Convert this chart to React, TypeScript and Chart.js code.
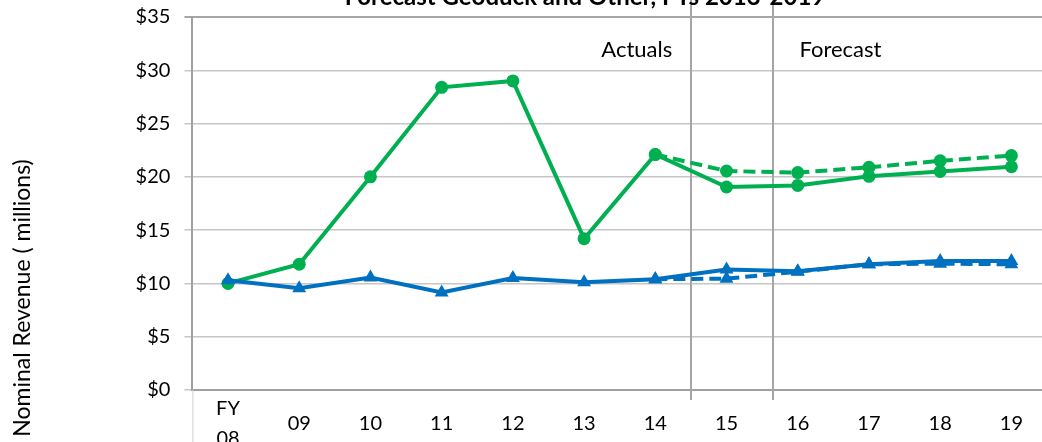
import React, { useEffect, useRef } from "react";
import { Chart, registerables } from "chart.js";

Chart.register(...registerables);

const categories: (string | string[])[] = [["FY", "08"], "09", "10", "11", "12", "13", "14", "15", "16", "17", "18", "19"];
const greenSolid = [10.0, 11.8, 20.0, 28.4, 29.0, 14.2, 22.1, 19.05, 19.2, 20.05, 20.5, 20.95];
const greenDashed = [null, null, null, null, null, null, 22.1, 20.55, 20.4, 20.9, 21.5, 22.0];
const blueSolid = [10.3, 9.55, 10.55, 9.15, 10.5, 10.1, 10.4, 11.3, 11.15, 11.8, 12.1, 12.1];
const blueDashed = [null, null, null, null, null, null, 10.4, 10.45, 11.1, 11.8, 11.85, 11.8];
const yMin = 0;
const yMax = 35;
const yStep = 5;
const titleText = "Forecast Geoduck and Other, FYs 2013-2019";
const yTitle = "Nominal Revenue ( millions)";
const actualsLabel = "Actuals";
const forecastLabel = "Forecast";

const GREEN = "#00B050";
const BLUE = "#0070C0";
const FONT = "Lato";
const TOP_SHIFT = 30;
const CANVAS_W = 1055;
const CANVAS_H = 480;

const overlay = {
  id: "overlay",
  beforeDatasetsDraw(chart: any) {
    const { ctx, scales } = chart;
    const xs = scales.x;
    const ys = scales.y;
    ctx.save();
    ctx.strokeStyle = "#A6A6A6";
    ctx.lineWidth = 2;
    [6.5, 7.65].forEach((v) => {
      const px = Math.round(xs.getPixelForValue(v));
      ctx.beginPath();
      ctx.moveTo(px, 0);
      ctx.lineTo(px, ys.bottom + 10);
      ctx.stroke();
    });
    ctx.strokeStyle = "#D0D0D0";
    ctx.lineWidth = 1;
    ctx.beginPath();
    ctx.moveTo(xs.left + 0.5, ys.bottom);
    ctx.lineTo(xs.left + 0.5, chart.height);
    ctx.stroke();
    ctx.restore();
  },
  afterDraw(chart: any) {
    const { ctx, scales } = chart;
    const xs = scales.x;
    const ys = scales.y;
    ctx.save();
    ctx.fillStyle = "#000";
    ctx.font = `22px ${FONT}`;
    ctx.textAlign = "center";
    ctx.textBaseline = "middle";
    const ly = ys.getPixelForValue(31.9);
    ctx.fillText(actualsLabel, xs.getPixelForValue(5.74), ly);
    ctx.fillText(forecastLabel, xs.getPixelForValue(8.6), ly);
    ctx.font = `bold 24px ${FONT}`;
    ctx.textBaseline = "alphabetic";
    ctx.fillText(titleText, 585, TOP_SHIFT + 5);
    ctx.font = `23px ${FONT}`;
    ctx.textBaseline = "middle";
    ctx.translate(23, TOP_SHIFT + 298);
    ctx.rotate(-Math.PI / 2);
    ctx.fillText(yTitle, 0, 0);
    ctx.restore();
  },
};

export default function App() {
  const ref = useRef<HTMLCanvasElement | null>(null);
  useEffect(() => {
    let chart: Chart | null = null;
    let cancelled = false;
    const make = () => {
      if (cancelled || !ref.current) return;
      chart = new Chart(ref.current, {
        type: "line",
        data: {
          labels: categories as any,
          datasets: [
            { data: blueDashed, borderColor: BLUE, backgroundColor: BLUE, borderWidth: 4, borderDash: [12, 6], pointStyle: "triangle", pointRadius: 8, pointBorderWidth: 0 },
            { data: blueSolid, borderColor: BLUE, backgroundColor: BLUE, borderWidth: 4, pointStyle: "triangle", pointRadius: 8, pointBorderWidth: 0 },
            { data: greenDashed, borderColor: GREEN, backgroundColor: GREEN, borderWidth: 4, borderDash: [12, 6], pointStyle: "circle", pointRadius: 6.5, pointBorderWidth: 0 },
            { data: greenSolid, borderColor: GREEN, backgroundColor: GREEN, borderWidth: 4, pointStyle: "circle", pointRadius: 6.5, pointBorderWidth: 0 },
          ],
        },
        options: {
          animation: false,
          responsive: false,
          devicePixelRatio: 1,
          layout: { padding: { top: 17 + TOP_SHIFT, right: 1.8, left: 0, bottom: 0 } },
          plugins: { legend: { display: false }, tooltip: { enabled: false }, title: { display: false } },
          elements: { line: { tension: 0 } },
          scales: {
            x: {
              type: "category",
              offset: true,
              grid: { display: false, drawTicks: false },
              border: { display: true, color: "#A0A0A0", width: 2 },
              ticks: { color: "#000", font: { family: FONT, size: 20, lineHeight: 1.5 }, padding: 19, crossAlign: "center", maxRotation: 0, autoSkip: false },
              afterFit: (s: any) => {
                s.height = 60;
                s.paddingLeft = 0;
                s.paddingRight = 0;
              },
            },
            y: {
              min: yMin,
              max: yMax,
              grid: {
                color: (c: any) => (c.tick && c.tick.value === yMax ? "#A6A6A6" : "#C6C6C6"),
                lineWidth: (c: any) => (c.tick && c.tick.value === yMax ? 2 : 1.5),
                tickLength: 8,
                drawTicks: true,
              },
              border: { display: true, color: "#A0A0A0", width: 2 },
              ticks: { stepSize: yStep, color: "#000", font: { family: FONT, size: 20 }, padding: 14, callback: (v: any) => "$" + v },
              afterFit: (s: any) => {
                s.width = 192.4;
              },
            },
          },
        },
        plugins: [overlay],
      });
    };
    const fonts: any = (document as any).fonts;
    if (fonts && fonts.load) {
      Promise.all([fonts.load(`20px ${FONT}`), fonts.load(`bold 20px ${FONT}`)]).then(make, make);
    } else make();
    return () => {
      cancelled = true;
      if (chart) chart.destroy();
    };
  }, []);
  return (
    <div style={{ position: "fixed", left: 0, top: -TOP_SHIFT, width: CANVAS_W, height: CANVAS_H, background: "#fff" }}>
      <canvas ref={ref} width={CANVAS_W} height={CANVAS_H} style={{ width: CANVAS_W, height: CANVAS_H, display: "block" }} />
    </div>
  );
}
